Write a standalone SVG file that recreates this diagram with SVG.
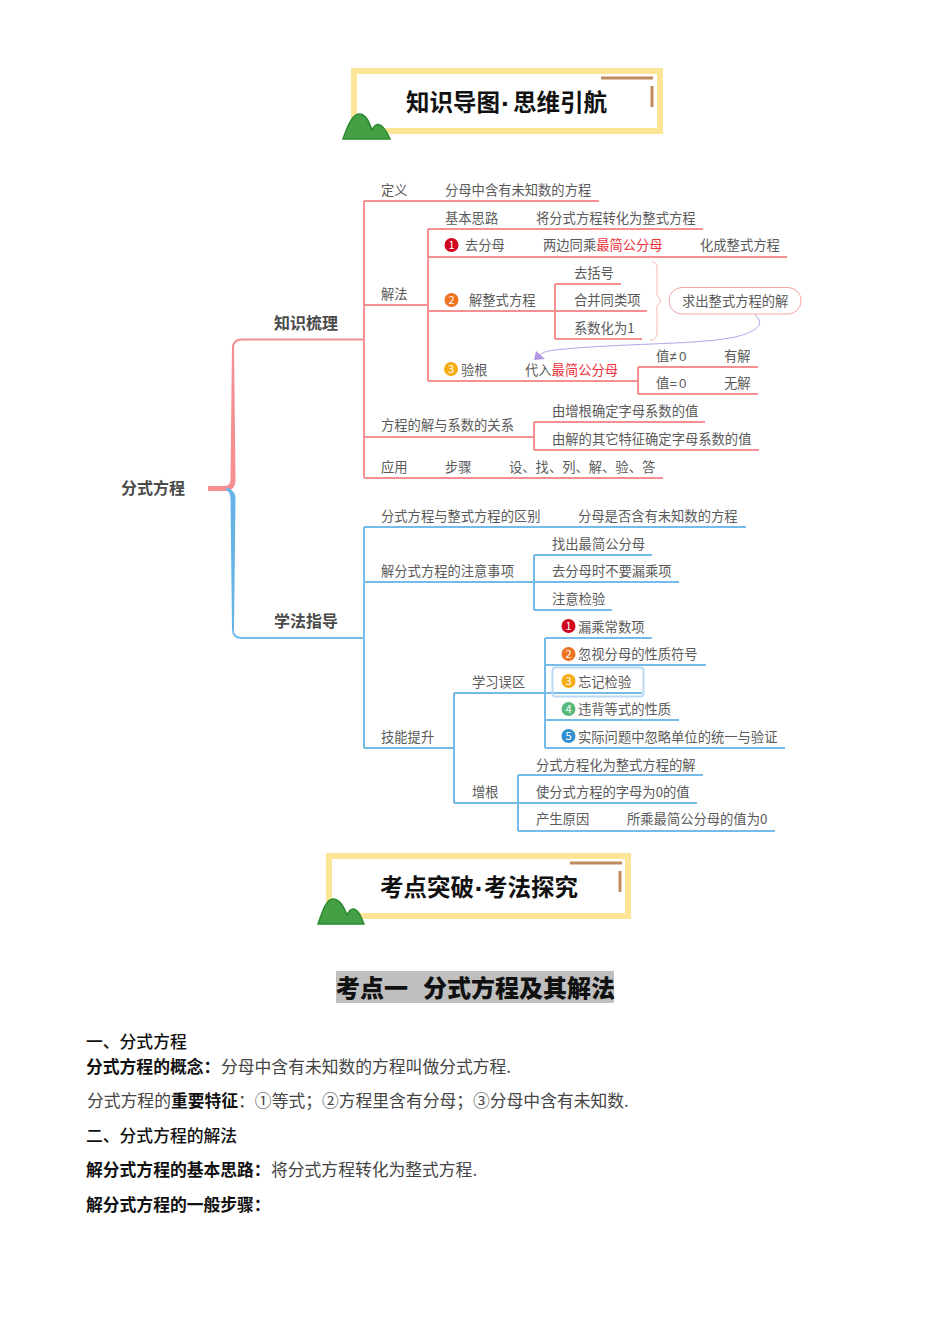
<svg xmlns="http://www.w3.org/2000/svg" width="950" height="1344" viewBox="0 0 950 1344">
<style>
text{font-family:"Noto Sans CJK SC","Liberation Sans",sans-serif;}
.t{font-size:13.3px;fill:#5a5a5a;}
.red{fill:#f0303a;}
.sym{font-family:"Liberation Sans",sans-serif;}
.b{font-size:16px;font-weight:700;fill:#4a4a4a;}
.ttl{font-size:23.500px;font-weight:700;fill:#111;}
.dot{font-family:"Liberation Sans",sans-serif;font-size:28px;font-weight:700;fill:#111;}
.h{font-size:24px;font-weight:900;fill:#111;}
.p{font-size:16.8px;fill:#444;}
.pb{font-size:16.8px;font-weight:700;fill:#111;}
.n{font-size:11px;font-weight:400;fill:#fff;text-anchor:middle;}
.pink{fill:none;stroke:#f58f92;stroke-width:2;}
.blue{fill:none;stroke:#74bbea;stroke-width:2;}
.frame{fill:#fff;stroke:#fde597;stroke-width:6;}
.brown{fill:none;stroke:#c08a5f;stroke-width:3;}
.hill{fill:#45a045;stroke:#2a8a30;stroke-width:1.5;}
</style>
<rect width="950" height="1344" fill="#fff"/>
<g id="banner-1">
<rect class="frame" x="354" y="71" width="306" height="60"/>
<path class="brown" d="M601 78H653M652 86V107"/>
<path class="hill" d="M343 139C347 128 352 114 359 114C366 114 369 122 372 130C374 126 376 124.500 378 124.500C383 124.500 387 132 390 139Z"/>
<text class="ttl" x="406" y="111">知识导图</text><text class="dot" x="501" y="113">·</text><text class="ttl" x="513" y="111">思维引航</text>
</g>
<g id="connectors">
<g class="pink">
<path style="stroke-width:5" d="M208 488.500H226"/>
<path d="M224 488.500C230 488.500 233 487 233 480V348C233 342 236 339.500 242 339.500H364"/>
<path d="M364 201V478M364 201H599M364 305H428M364 437H534M364 478H663"/>
<path d="M428 229V381M428 229H703M428 257H787M428 311H647M428 381H638"/>
<path d="M555 284V339M555 284H621M555 339H642"/>
<path d="M638 367V394M638 367H758M638 394H758"/>
<path d="M534 422V450M534 422H705M534 450H759"/>
</g>
<path d="M224 486C229 486 230.500 484 230.500 478L232 345H234L235.500 480C235.500 488 231 491 224 491Z" fill="#f58f92"/>
<g class="blue">
<path d="M226 488.500C231 489 233 493 233 498V630C233 635 236 638 242 638H364"/>
<path d="M364 527V748M364 527H746M364 582H534M364 748H454"/>
<path d="M534 555V610M534 555H652M534 582H679M534 610H612"/>
<path d="M454 693V803M454 693H545M454 803H519"/>
<path d="M545 638V748M545 638H652M545 665H706M545 693H642M545 720H679M545 748H785"/>
<path d="M518 775V831M518 775H703M518 803H697M518 831H775"/>
</g>
<path d="M228 489C233 490 235.500 493 235.500 499L234 630H232L230.500 499C230.500 494 229 491 226 490Z" fill="#66b3e6"/>
<path d="M652 262Q657 262 657 268V295L661 301L657 306V333Q657 340 650 340" fill="none" stroke="#f9b6b6" stroke-width="1"/>
<path d="M755 315C768 325 752 334 730 338C690 345 620 343 555 350C546 351 541 353 539 356" fill="none" stroke="#b9a4e6" stroke-width="1"/>
<path d="M536 351L545 359L534 360Z" fill="#b497e4"/>
<rect x="552.500" y="667.500" width="91" height="29" rx="3" fill="none" stroke="#bcd8f2" stroke-width="2"/>
</g>
<g id="root"><text class="b" x="121" y="494">分式方程</text></g>
<g id="zhishi"><text class="b" x="274" y="329">知识梳理</text></g>
<g id="xuefa"><text class="b" x="274" y="627">学法指导</text></g>
<g id="n-dingyi"><text class="t" x="381" y="195">定义</text><text class="t" x="445" y="195">分母中含有未知数的方程</text></g>
<g id="n-jiefa"><text class="t" x="381" y="299">解法</text></g>
<g id="n-silu"><text class="t" x="445" y="223">基本思路</text><text class="t" x="536" y="223">将分式方程转化为整式方程</text></g>
<g id="n-qufenmu"><circle cx="451.500" cy="245" r="7" fill="#d0051e"/><text class="n" x="451.500" y="249">1</text><text class="t" x="465" y="250">去分母</text><text class="t" x="543" y="250">两边同乘<tspan class="red">最简公分母</tspan></text><text class="t" x="700" y="250">化成整式方程</text></g>
<g id="n-jiezhengshi"><circle cx="451.500" cy="300" r="7" fill="#f0731f"/><text class="n" x="451.500" y="304">2</text><text class="t" x="469" y="305">解整式方程</text></g>
<g id="n-kuohao"><text class="t" x="574" y="278">去括号</text></g>
<g id="n-hebing"><text class="t" x="574" y="305">合并同类项</text></g>
<g id="n-xishu"><text class="t" x="574" y="333">系数化为1</text></g>
<g id="n-qiuchu"><rect x="669" y="287.500" width="132" height="26.500" rx="13" fill="#fff" stroke="#f5a5a5" stroke-width="1"/><text class="t" x="682" y="306">求出整式方程的解</text></g>
<g id="n-yangen"><circle cx="451" cy="369" r="7" fill="#f7ab12"/><text class="n" x="451" y="373">3</text><text class="t" x="461" y="375">验根</text><text class="t" x="525" y="375">代入<tspan class="red">最简公分母</tspan></text></g>
<g id="n-zhi1"><text class="t" x="656" y="361">值<tspan class="sym" x="669.500">≠</tspan><tspan class="sym" x="679">0</tspan></text><text class="t" x="724" y="361">有解</text></g>
<g id="n-zhi2"><text class="t" x="656" y="388">值<tspan class="sym" x="669.500">=</tspan><tspan class="sym" x="679">0</tspan></text><text class="t" x="724" y="388">无解</text></g>
<g id="n-guanxi"><text class="t" x="381" y="430">方程的解与系数的关系</text></g>
<g id="n-zenggen1"><text class="t" x="552" y="416">由增根确定字母系数的值</text></g>
<g id="n-qita"><text class="t" x="552" y="444">由解的其它特征确定字母系数的值</text></g>
<g id="n-yingyong"><text class="t" x="381" y="472">应用</text><text class="t" x="445" y="472">步骤</text><text class="t" x="509" y="472">设、找、列、解、验、答</text></g>
<g id="n-qubie"><text class="t" x="381" y="521">分式方程与整式方程的区别</text><text class="t" x="578" y="521">分母是否含有未知数的方程</text></g>
<g id="n-zhuyi"><text class="t" x="381" y="576">解分式方程的注意事项</text></g>
<g id="n-zhaochu"><text class="t" x="552" y="549">找出最简公分母</text></g>
<g id="n-louchengxiang"><text class="t" x="552" y="576">去分母时不要漏乘项</text></g>
<g id="n-jianyan"><text class="t" x="552" y="604">注意检验</text></g>
<g id="n-jineng"><text class="t" x="381" y="742">技能提升</text></g>
<g id="n-wuqu"><text class="t" x="472" y="687">学习误区</text></g>
<g id="n-zenggen"><text class="t" x="472" y="797">增根</text></g>
<g id="n-e1"><circle cx="568.500" cy="626" r="7" fill="#d0051e"/><text class="n" x="568.500" y="630">1</text><text class="t" x="578" y="632">漏乘常数项</text></g>
<g id="n-e2"><circle cx="568.500" cy="654" r="7" fill="#f0731f"/><text class="n" x="568.500" y="658">2</text><text class="t" x="578" y="659">忽视分母的性质符号</text></g>
<g id="n-e3"><circle cx="568.500" cy="681" r="7" fill="#f7ab12"/><text class="n" x="568.500" y="685">3</text><text class="t" x="578" y="687">忘记检验</text></g>
<g id="n-e4"><circle cx="568.500" cy="709" r="7" fill="#57b97c"/><text class="n" x="568.500" y="713">4</text><text class="t" x="578" y="714">违背等式的性质</text></g>
<g id="n-e5"><circle cx="568.500" cy="736" r="7" fill="#2f8fd0"/><text class="n" x="568.500" y="740">5</text><text class="t" x="578" y="742">实际问题中忽略单位的统一与验证</text></g>
<g id="n-z1"><text class="t" x="536" y="770">分式方程化为整式方程的解</text></g>
<g id="n-z2"><text class="t" x="536" y="797">使分式方程的字母为0的值</text></g>
<g id="n-z3"><text class="t" x="536" y="824">产生原因</text><text class="t" x="627" y="824">所乘最简公分母的值为0</text></g>
<g id="banner-2">
<rect class="frame" x="329" y="856" width="299" height="60"/>
<path class="brown" d="M570 863H622M620 871V892"/>
<path class="hill" d="M318 924C322 913 326 899 333 899C340 899 344 907 347 915C349 911 351 909 353 909C358 909 361 917 364 924Z"/>
<text class="ttl" x="380" y="896">考点突破</text><text class="dot" x="474.500" y="898">·</text><text class="ttl" x="484" y="896">考法探究</text>
</g>
<g id="heading">
<rect x="336" y="971" width="278" height="32" fill="#bfbfbf"/>
<text class="h" x="336" y="997">考点一</text><text class="h" x="423" y="997">分式方程及其解法</text>
</g>
<g id="body">
<text class="pb" x="86" y="1048" style="font-weight:500">一、分式方程</text>
<text class="pb" x="86" y="1073">分式方程的概念：</text><text class="p" x="221" y="1073">分母中含有未知数的方程叫做分式方程.</text>
<text class="p" x="87" y="1107">分式方程的<tspan class="pb">重要特征</tspan>：①等式；②方程里含有分母；③分母中含有未知数.</text>
<text class="pb" x="86" y="1142" style="font-weight:500">二、分式方程的解法</text>
<text class="pb" x="86" y="1176">解分式方程的基本思路：</text><text class="p" x="271" y="1176">将分式方程转化为整式方程.</text>
<text class="pb" x="86" y="1211">解分式方程的一般步骤：</text>
</g>
</svg>
